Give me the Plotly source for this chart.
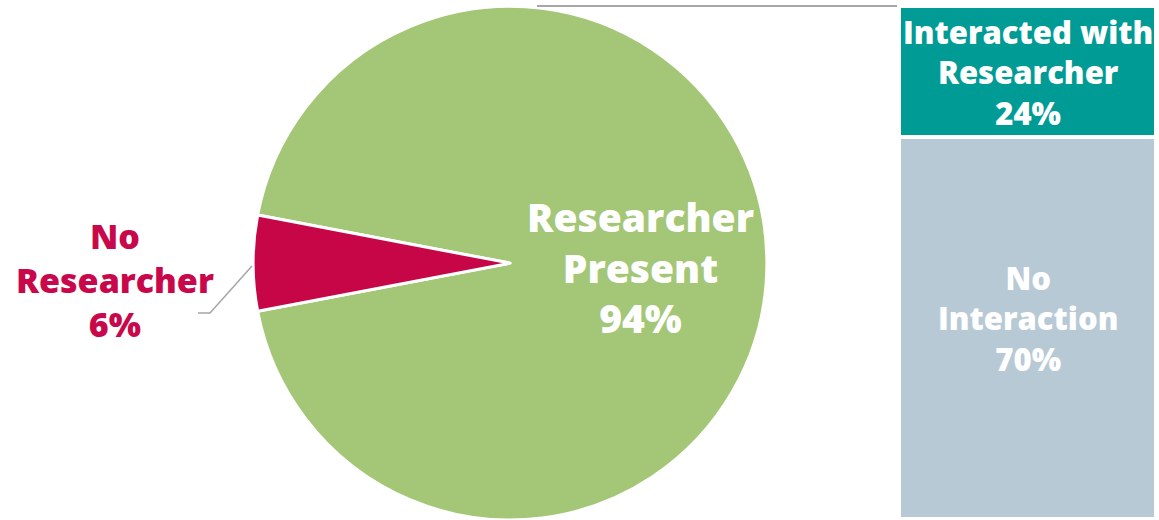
import plotly.graph_objects as go

# Pie: was a researcher present?
pie_labels = ["Researcher<br>Present", "No<br>Researcher"]
pie_values = [94, 6]
pie_colors = ["#A3C777", "#C70648"]

# Breakdown of the "Researcher Present" share
bar_labels = ["No<br>Interaction", "Interacted with<br>Researcher"]
bar_values = [70, 24]
bar_colors = ["#B8C9D6", "#009B95"]

W, H = 1159, 520
FONT = "Open Sans"
WEIGHT = 800

fig = go.Figure()

fig.add_trace(go.Pie(
    labels=pie_labels,
    values=pie_values,
    sort=False,
    direction="clockwise",
    rotation=-79.2,
    marker=dict(colors=pie_colors, line=dict(color="white", width=3)),
    textinfo="none",
    hoverinfo="label+percent",
    domain=dict(x=[253 / W, 767 / W], y=[0.0, 0.988]),
    showlegend=False,
))

# Stacked bar for the breakdown
base = 0
for lab, val, col in zip(bar_labels, bar_values, bar_colors):
    fig.add_trace(go.Bar(
        x=[0], y=[val], base=[base], width=1,
        marker=dict(color=col, line=dict(color="white", width=4)),
        hoverinfo="text", hovertext=lab.replace("<br>", " "),
        showlegend=False,
    ))
    base += val

# Labels
fig.add_annotation(
    x=640 / W, y=1 - 267 / H, xref="paper", yref="paper",
    xanchor="center", yanchor="middle",
    text=f"{pie_labels[0]}<br>{pie_values[0]}%", showarrow=False,
    font=dict(family=FONT, size=39, color="white", weight=WEIGHT),
    align="center",
)
fig.add_annotation(
    x=115 / W, y=1 - 280 / H, xref="paper", yref="paper",
    xanchor="center", yanchor="middle",
    text=f"{pie_labels[1]}<br>{pie_values[1]}%", showarrow=False,
    font=dict(family=FONT, size=34, color="#C8084A", weight=WEIGHT),
    align="center",
)
lo = 0
for lab, val in zip(bar_labels, bar_values):
    fig.add_annotation(
        x=0, y=lo + val / 2, xref="x", yref="y",
        xanchor="center", yanchor="middle",
        text=f"{lab}<br>{val}%", showarrow=False,
        yshift=10 if lo == 0 else -1,
        font=dict(family=FONT, size=31, color="white", weight=WEIGHT),
        align="center",
    )
    lo += val

# Connector from pie top to bar top
fig.add_shape(type="line", xref="paper", yref="y",
              x0=537 / W, x1=897 / W, y0=sum(bar_values), y1=sum(bar_values),
              line=dict(color="#A6A6A6", width=2))
# Leader line for the small slice
fig.add_shape(type="path", xref="paper", yref="paper", layer="above",
              path=f"M {252 / W} {1 - 266 / H} L {210 / W} {1 - 313 / H} L {198 / W} {1 - 313 / H}",
              line=dict(color="#A6A6A6", width=1.5))

fig.update_layout(
    width=W, height=H,
    margin=dict(l=0, r=0, t=0, b=0),
    paper_bgcolor="white", plot_bgcolor="white",
    barmode="overlay",
    xaxis=dict(domain=[899 / W, 1156 / W], range=[-0.5, 0.5], visible=False, fixedrange=True),
    yaxis=dict(range=[-0.18, 95.1], visible=False, fixedrange=True),
    font=dict(family=FONT),
)

fig.write_html("out.html")
